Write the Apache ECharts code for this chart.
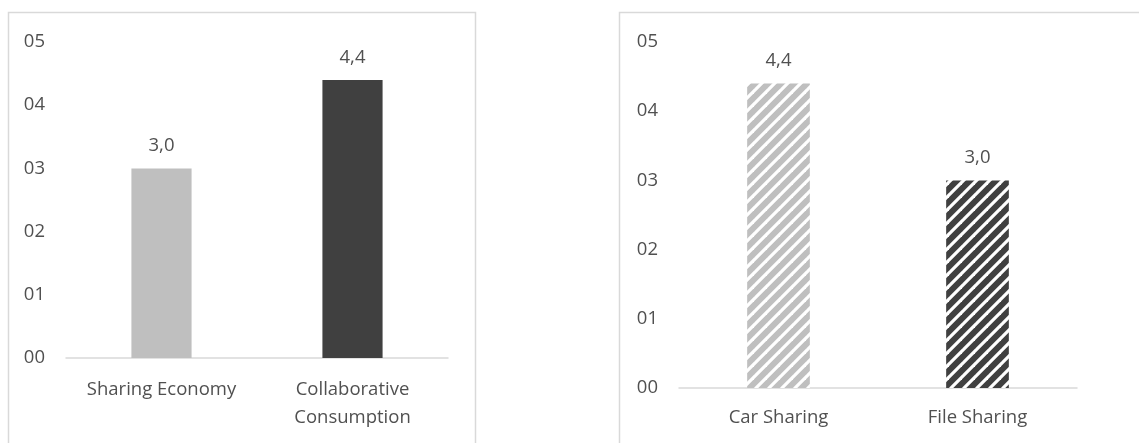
<!DOCTYPE html>
<html>
<head>
<meta charset="utf-8">
<script src="https://cdn.jsdelivr.net/npm/echarts@6/dist/echarts.min.js"></script>
<style>
  html, body { margin: 0; padding: 0; background: #ffffff; }
  #chart { width: 1139px; height: 443px; }
</style>
</head>
<body>
<div id="chart"></div>
<script>
// ---- Data ----
const leftCategories = ['Sharing Economy', 'Collaborative\nConsumption'];
const leftValues = [3.0, 4.4];
const rightCategories = ['Car Sharing', 'File Sharing'];
const rightValues = [4.4, 3.0];
const yTickLabels = ['00', '01', '02', '03', '04', '05'];

// ---- Styles ----
const FONT = 'Open Sans';
const TEXT = '#505050';
const LIGHT = '#BFBFBF';
const DARK = '#404040';
const LINE = '#D9D9D9';

function hatch(bg) {
  const s = 13;
  const c = document.createElement('canvas');
  c.width = s; c.height = s;
  const g = c.getContext('2d');
  g.fillStyle = bg;
  g.fillRect(0, 0, s, s);
  g.strokeStyle = '#ffffff';
  g.lineWidth = 3.2;
  for (let k = -1; k <= 1; k++) {
    g.beginPath();
    g.moveTo(k * s - 2, s + 2);
    g.lineTo(k * s + s + 2, -2);
    g.stroke();
  }
  return { image: c, repeat: 'repeat' };
}

const fmtVal = p => p.value.toFixed(1).replace('.', ',');

function yAxis(idx) {
  return {
    type: 'value', gridIndex: idx, min: 0, max: 5, interval: 1,
    axisLine: { show: false }, axisTick: { show: false }, splitLine: { show: false },
    axisLabel: {
      color: TEXT, fontFamily: FONT, fontSize: 18.5, margin: 21,
      formatter: v => yTickLabels[Math.round(v)]
    }
  };
}
function xAxis(idx, cats, margin) {
  return {
    type: 'category', gridIndex: idx, data: cats,
    axisLine: { show: true, lineStyle: { color: LINE, width: 1.5 } },
    axisTick: { show: false },
    axisLabel: { color: TEXT, fontFamily: FONT, fontSize: 18.5, lineHeight: 28, margin: margin, interval: 0 }
  };
}
const labelCfg = { show: true, position: 'top', distance: 13, color: TEXT, fontFamily: FONT, fontSize: 18.5, formatter: fmtVal };

const chart = echarts.init(document.getElementById('chart'), null, { renderer: 'canvas' });
chart.setOption({
  backgroundColor: '#ffffff',
  animation: false,
  graphic: [
    { type: 'rect', shape: { x: 8.5, y: 12.5, width: 467, height: 460 }, style: { fill: 'none', stroke: LINE, lineWidth: 1.5 }, silent: true },
    { type: 'rect', shape: { x: 619.5, y: 12.5, width: 600, height: 460 }, style: { fill: 'none', stroke: LINE, lineWidth: 1.5 }, silent: true }
  ],
  grid: [
    { left: 66, right: 691, top: 42, bottom: 85 },
    { left: 679, right: 62, top: 42, bottom: 55 }
  ],
  xAxis: [xAxis(0, leftCategories, 18), xAxis(1, rightCategories, 16)],
  yAxis: [yAxis(0), yAxis(1)],
  series: [
    {
      type: 'bar', xAxisIndex: 0, yAxisIndex: 0, barWidth: '31.5%',
      data: leftValues.map((v, i) => ({ value: v, itemStyle: { color: i === 0 ? LIGHT : DARK } })),
      label: labelCfg
    },
    {
      type: 'bar', xAxisIndex: 1, yAxisIndex: 1, barWidth: '31.5%',
      data: rightValues.map((v, i) => ({ value: v, itemStyle: { color: hatch(i === 0 ? LIGHT : DARK) } })),
      label: labelCfg
    }
  ]
});
</script>
</body>
</html>
